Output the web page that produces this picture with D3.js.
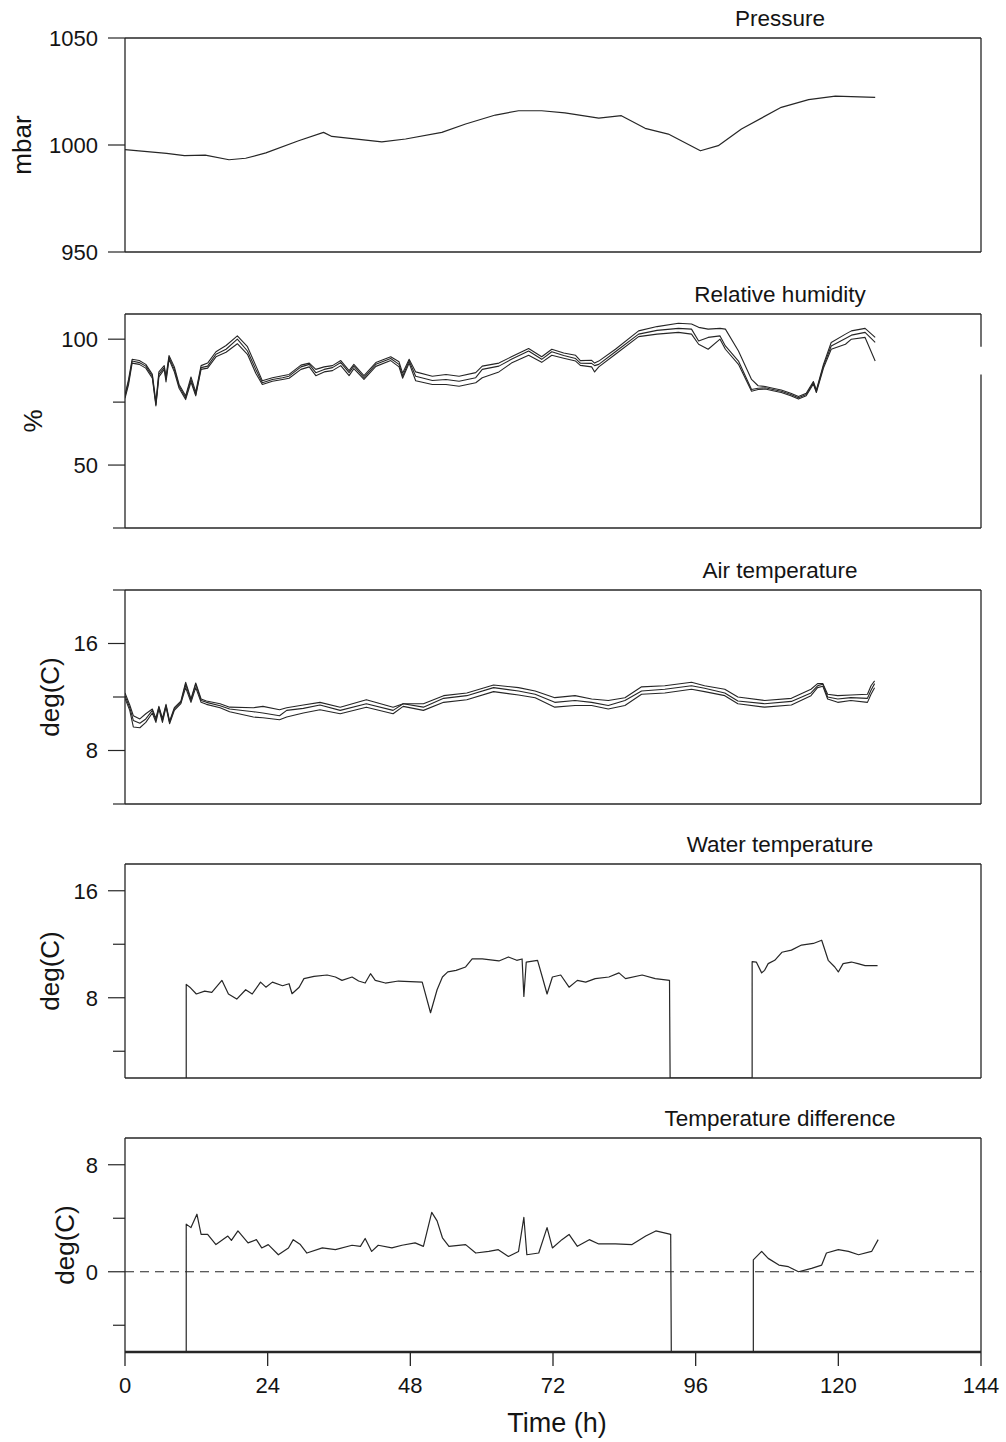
<!DOCTYPE html>
<html>
<head>
<meta charset="utf-8">
<script src="https://cdn.jsdelivr.net/npm/d3@7"></script>
<style>
  body { margin: 0; background: #fff; }
  text { font-family: "Liberation Sans", Arial, Helvetica, sans-serif; fill: #141414; }
</style>
</head>
<body>
<div id="chart"></div>
<script>
// ---- data (time in hours) ----
const xTicks = [0, 24, 48, 72, 96, 120, 144];

const panelTitles = ["Pressure", "Relative humidity", "Air temperature", "Water temperature", "Temperature difference"];
const yTitles = ["mbar", "%", "deg(C)", "deg(C)", "deg(C)"];
const yDomains = [[950, 1050], [25, 110], [4, 20], [2, 18], [-6, 10]];
const yTicks = [[950, 1000, 1050], [25, 50, 75, 100], [4, 8, 12, 16, 20], [4, 8, 12, 16], [-4, 0, 4, 8]];
const yTickLabels = [[950, 1000, 1050], [50, 100], [8, 16], [8, 16], [0, 8]];

const pressureT = [0, 7, 10, 13.5, 17.5, 20.3, 23.7, 29.2, 33.4, 34.8, 43.2, 47.2, 53.3, 57.3, 62.3,
  66.2, 70.1, 74, 79.7, 83.5, 87.5, 91.4, 96.8, 99.8, 103.7, 110.4, 115, 119.5, 126.2];
const pressureV = [997.8, 996.1, 995, 995.3, 993.1, 993.8, 996.3, 1002, 1005.9, 1004, 1001.5, 1002.8, 1005.9, 1009.8, 1014,
  1016, 1016, 1015, 1012.6, 1013.7, 1007.8, 1005.1, 997.3, 999.7, 1007.5, 1017.6, 1021.2, 1022.8, 1022.3];

const rhT = [0, 0.6, 1.2, 2.4, 3.5, 4.6, 5.2, 5.7, 6.6, 6.9, 7.4, 8.3, 9.1, 10.2, 11.1, 11.9, 12.8, 13.9, 15.3, 17,
  18.9, 20.6, 22, 23.1, 24.8, 26.5, 27.6, 29.6, 31, 32.1, 33.5, 34.9, 36.3, 37.7, 38.5, 40.2, 42.2, 44.7, 46.1, 46.7,
  47.8, 48.9, 51.7, 54, 56.2, 59, 60.1, 62.9, 65, 67.9, 70.1, 71.8, 73.8, 75.8, 76.6, 78.5, 79, 79.7, 82.5, 86.4,
  89.5, 93.1, 95.3, 96.5, 98.1, 100.1, 101, 103.2, 105.4, 106.5, 107.7, 109, 110.4, 112, 113.3, 114.6, 115.8, 116.3,
  117.5, 118.8, 121.2, 122.2, 124.5, 126.2];
const rhUpper = [78, 84, 92, 91.5, 90, 86, 75, 87, 89.5, 85, 93.5, 89, 82, 77.5, 85, 79, 89.5, 90.5, 95, 97.5,
  101.3, 97, 89.5, 83.5, 84.7, 85.5, 86, 89.7, 90.5, 88, 89, 89.5, 91.5, 87.5, 90, 85.5, 90.7, 93, 91, 86.5,
  92, 87, 85.3, 86, 85.3, 86.7, 89.3, 90.5, 93, 96.3, 93, 96, 94.5, 93.6, 91.5, 91.6, 90.5, 91.3, 96, 103.3,
  105, 106.3, 106, 104.7, 104, 104.3, 104, 95.3, 84, 81.5, 81.2, 80.5, 79.8, 78.5, 77.2, 78.5, 83.2, 79.8,
  90, 98.7, 102, 103.3, 104.3, 100.7];
const rhMiddle = [77.3, 83, 91.3, 90.7, 89.3, 85.3, 74, 86, 88.7, 84, 92.7, 88, 81.3, 76.7, 84, 78, 88.7, 89.3, 94, 96,
  100, 95.3, 88, 82.7, 84, 84.7, 85.3, 89, 90, 86.7, 88, 88.7, 90.7, 86.7, 89.3, 84.7, 90, 92.3, 90, 85.3,
  91.3, 85.3, 83.6, 84, 83.3, 84.7, 88, 89.3, 92, 95.3, 92, 95, 93.5, 92.3, 90.5, 90.4, 89.5, 90, 95, 102,
  103.5, 104.3, 104, 99.3, 100.7, 101.3, 97.3, 91.3, 80, 80.5, 80.7, 80, 79.3, 78, 76.7, 78, 82.7, 79.3,
  89.3, 97.3, 100.3, 101.6, 102.7, 98.7];
const rhLower = [76.5, 82, 90.5, 90, 88.5, 84.5, 73.5, 85, 88, 83, 92, 87, 80.5, 76, 83, 77.5, 88, 88.5, 93, 94.8,
  98.2, 94, 86.5, 82, 83.3, 84, 84.5, 88, 89, 85.5, 87, 87.5, 89.5, 85.5, 88.3, 84, 89.2, 91.5, 89, 84.5,
  90.5, 83.5, 82, 82, 81.3, 82.7, 84.7, 87, 90.5, 93.6, 90.8, 93.6, 92.4, 91.3, 89.6, 89, 87, 89, 94, 101,
  102, 102.7, 102, 98, 96, 100, 96, 90, 79.3, 80, 80.2, 79.5, 78.8, 77.5, 76.2, 77.5, 82.2, 78.8,
  88.5, 96, 98, 100, 100.7, 91.3];
const rhFrameGap = [86, 97];   // the figure's right frame line is broken here

const airT = [0, 0.8, 1.4, 2.5, 3.5, 4.6, 5.2, 5.7, 6.3, 6.9, 7.5, 8.3, 9.4, 10.2, 11.1, 11.9, 12.8, 13.7, 16, 17.6,
  21.6, 23.2, 26, 27.2, 30, 32.8, 36.2, 40.6, 45.1, 46.8, 50.2, 53.6, 57.5, 62, 66.2, 69, 72.3, 75.7, 78.5, 81.3,
  84.1, 86.9, 90.8, 95.3, 97.5, 100.9, 103.1, 107.6, 112.1, 115.4, 116.5, 117.4, 118.2, 119.9, 122.1, 124.9, 125.5, 126.1];
const airUpper = [12.3, 11.4, 10.6, 10.36, 10.75, 11.1, 10.4, 11.3, 10.4, 11.45, 10.2, 11.2, 11.7, 13.1, 11.85, 13.05, 11.85, 11.7, 11.5, 11.24,
  11.2, 11.3, 11.05, 11.2, 11.4, 11.6, 11.24, 11.8, 11.24, 11.5, 11.5, 12.1, 12.3, 12.9, 12.7, 12.45, 11.95, 12.1, 11.85, 11.74,
  11.95, 12.76, 12.84, 13.1, 12.84, 12.58, 12, 11.74, 11.9, 12.58, 13, 13, 12.2, 12.1, 12.15, 12.2, 12.84, 13.2];
const airMiddle = [12.1, 11.2, 10.25, 10.04, 10.36, 11, 10.25, 11.24, 10.25, 11.37, 10.1, 11.1, 11.6, 12.96, 11.74, 12.96, 11.74, 11.6, 11.35, 11.1,
  10.9, 10.8, 10.6, 11, 11.15, 11.4, 11, 11.5, 11, 11.5, 11.24, 11.9, 12.1, 12.7, 12.45, 12.2, 11.6, 11.74, 11.6, 11.37,
  11.74, 12.45, 12.58, 12.84, 12.65, 12.3, 11.7, 11.5, 11.67, 12.3, 12.84, 12.96, 12, 11.85, 11.95, 11.9, 12.5, 13];
const airLower = [11.9, 11, 9.76, 9.7, 10.1, 10.8, 10.1, 11.1, 10.1, 11.25, 10, 11, 11.5, 12.7, 11.6, 12.7, 11.6, 11.45, 11.2, 10.9,
  10.5, 10.45, 10.3, 10.5, 10.8, 11.05, 10.75, 11.24, 10.75, 11.3, 11, 11.6, 11.8, 12.4, 12.15, 11.95, 11.24, 11.37, 11.37, 11.1,
  11.37, 12.2, 12.3, 12.58, 12.4, 12.1, 11.5, 11.24, 11.4, 12.1, 12.7, 12.8, 11.85, 11.6, 11.74, 11.6, 12.2, 12.7];

// null = sensor out (drawn down to the bottom of the panel)
const waterT = [10.3, 10.3, 10.9, 12, 13.4, 14.6, 16.3, 17.4, 18.8, 20.3, 21.4, 22.8, 23.7, 24.8, 26.5, 27.6, 28.1, 29.3, 30.1, 31.8,
  34, 35.4, 36.5, 38.2, 39.3, 40.4, 41.3, 42.1, 43.8, 46, 50, 51.4, 52.5, 53.4, 54.3, 55.7, 57.3, 58.4, 60.1, 62.9,
  64.5, 65.9, 66.8, 67.1, 67.5, 69.4, 70.2, 71, 71.9, 73.3, 74.7, 76.1, 77.5, 79.1, 81.4, 83.1, 84.2, 87, 89.2, 91.6,
  91.7, 105.5, 105.5, 106.2, 107.1, 107.6, 108.2, 109.3, 110.5, 112.1, 113.8, 115.8, 117.2, 118.3, 119.4, 120, 120.8, 122.2, 123.3, 124.5, 126.6];
const waterV = [null, 9.0, 8.79, 8.28, 8.5, 8.4, 9.3, 8.28, 7.9, 8.6, 8.28, 9.17, 8.79, 9.17, 8.9, 9.05, 8.3, 8.79, 9.43, 9.6,
  9.7, 9.55, 9.3, 9.55, 9.25, 9.1, 9.8, 9.3, 9.1, 9.25, 9.17, 6.88, 8.6, 9.55, 9.93, 10.05, 10.3, 10.9, 10.9, 10.75,
  11.05, 10.8, 10.9, 8.1, 10.67, 10.8, 9.55, 8.28, 9.55, 9.7, 8.79, 9.3, 9.17, 9.43, 9.55, 9.86, 9.43, 9.7, 9.43, 9.3,
  null, null, 10.7, 10.67, 9.86, 10.05, 10.55, 10.8, 11.4, 11.56, 11.94, 12.06, 12.3, 10.8, 10.3, 9.93, 10.55, 10.67, 10.55, 10.4, 10.4];

const diffT = [10.3, 10.3, 11.1, 12.1, 12.8, 13.9, 15.3, 17.3, 17.9, 19, 20.7, 22.1, 23, 24.1, 25.8, 27.5, 28.3, 29.5, 30.6, 33.2,
  35.4, 38.2, 39.6, 40.4, 41.5, 42.6, 44.9, 46.6, 48.8, 50.2, 51.6, 52.5, 53.4, 54.5, 57.3, 59, 61.2, 62.8, 64.5, 66.2,
  67.1, 67.6, 69.6, 71, 71.9, 73.5, 74.7, 76.1, 78.1, 79.7, 82.5, 85.3, 87.6, 89.3, 91.8,
  91.9, 105.7, 105.7, 107.1, 108.2, 110, 111.6, 113.3, 115.5, 117.2, 118, 120, 121.7, 123.4, 125.6, 126.7];
const diffV = [null, 3.56, 3.3, 4.3, 2.8, 2.8, 2.03, 2.67, 2.34, 3.05, 2.16, 2.4, 1.78, 2.03, 1.27, 1.78, 2.4, 2.03, 1.4, 1.78,
  1.65, 1.98, 1.9, 2.49, 1.52, 1.98, 1.78, 1.98, 2.16, 1.9, 4.44, 3.8, 2.54, 1.9, 2.03, 1.4, 1.52, 1.65, 1.14, 1.52,
  4.06, 1.27, 1.4, 3.3, 1.78, 2.4, 2.79, 1.9, 2.4, 2.08, 2.08, 2.03, 2.67, 3.05, 2.8,
  null, null, 0.89, 1.52, 1.0, 0.5, 0.38, 0, 0.25, 0.5, 1.4, 1.65, 1.52, 1.27, 1.52, 2.4];

// ---- layout ----
const width = 1006, height = 1442;
const panelTop = [38, 314, 590, 864, 1138];
const panelH = 214;
const yTitleX = [22, 33, 50, 50, 65];

const svg = d3.select("#chart").append("svg")
  .attr("width", width)
  .attr("height", height);

const x = d3.scaleLinear().domain([0, 144]).range([125, 981]);
const ink = "#262626";

const series = [
  [[pressureT, pressureV]],
  [[rhT, rhUpper], [rhT, rhMiddle], [rhT, rhLower]],
  [[airT, airUpper], [airT, airMiddle], [airT, airLower]],
  [[waterT, waterV]],
  [[diffT, diffV]]
];

panelTitles.forEach((title, i) => {
  const top = panelTop[i], bottom = top + panelH;
  const y = d3.scaleLinear().domain(yDomains[i]).range([bottom, top]);
  const g = svg.append("g");

  // y ticks: labelled ones are a bit longer
  yTicks[i].forEach(v => {
    const major = yTickLabels[i].includes(v);
    g.append("line")
      .attr("x1", x(0) - (major ? 17 : 12)).attr("x2", x(0))
      .attr("y1", y(v)).attr("y2", y(v))
      .attr("stroke", ink).attr("stroke-width", 1.2);
    if (major) {
      g.append("text")
        .attr("x", 98).attr("y", y(v))
        .attr("dy", "0.36em")
        .attr("text-anchor", "end")
        .style("font-size", "22px")
        .text(v);
    }
  });

  // data lines, clipped to the frame
  g.append("clipPath").attr("id", "clip" + i)
    .append("rect").attr("x", x(0)).attr("y", top).attr("width", x(144) - x(0)).attr("height", panelH);

  const line = d3.line()
    .x(d => x(d[0]))
    .y(d => y(d[1] == null ? yDomains[i][0] : d[1]));

  series[i].forEach(([ts, vs]) => {
    g.append("path")
      .attr("clip-path", `url(#clip${i})`)
      .attr("d", line(ts.map((t, k) => [t, vs[k]])))
      .attr("fill", "none")
      .attr("stroke", ink)
      .attr("stroke-width", series[i].length > 1 ? 1.1 : 1.2)
      .attr("stroke-linejoin", "round");
  });

  if (i === 4) {
    g.append("line")
      .attr("x1", x(0)).attr("x2", x(144))
      .attr("y1", y(0)).attr("y2", y(0))
      .attr("stroke", ink).attr("stroke-width", 1.1)
      .attr("stroke-dasharray", "9,6");
  }

  // frame
  const frame = g.append("g").attr("stroke", ink).attr("stroke-width", 1.3);
  frame.append("line").attr("x1", x(0)).attr("x2", x(0)).attr("y1", top).attr("y2", bottom);
  frame.append("line").attr("x1", x(0)).attr("x2", x(144)).attr("y1", top).attr("y2", top);
  frame.append("line").attr("x1", x(0)).attr("x2", x(144)).attr("y1", bottom).attr("y2", bottom)
    .attr("stroke-width", i === 4 ? 2.6 : 1.3);
  if (i === 1) {
    frame.append("line").attr("x1", x(144)).attr("x2", x(144)).attr("y1", top).attr("y2", y(rhFrameGap[1]));
    frame.append("line").attr("x1", x(144)).attr("x2", x(144)).attr("y1", y(rhFrameGap[0])).attr("y2", bottom);
  } else {
    frame.append("line").attr("x1", x(144)).attr("x2", x(144)).attr("y1", top).attr("y2", bottom);
  }

  // titles
  g.append("text")
    .attr("x", 780).attr("y", top - 12)
    .attr("text-anchor", "middle")
    .style("font-size", "22.5px")
    .text(title);

  g.append("text")
    .attr("transform", `translate(${yTitleX[i]},${(top + bottom) / 2}) rotate(-90)`)
    .attr("text-anchor", "middle")
    .attr("dy", "0.36em")
    .style("font-size", "26px")
    .text(yTitles[i]);
});

// x axis under the last panel
const axisY = panelTop[4] + panelH;
const xAxis = svg.append("g").attr("transform", `translate(0,${axisY})`);
xTicks.forEach(t => {
  xAxis.append("line")
    .attr("x1", x(t)).attr("x2", x(t))
    .attr("y1", 0).attr("y2", 14)
    .attr("stroke", ink).attr("stroke-width", 1.3);
  xAxis.append("text")
    .attr("x", x(t)).attr("y", 41)
    .attr("text-anchor", "middle")
    .style("font-size", "22px")
    .text(t);
});

svg.append("text")
  .attr("x", 557).attr("y", 1432)
  .attr("text-anchor", "middle")
  .style("font-size", "27px")
  .text("Time (h)");
</script>
</body>
</html>
